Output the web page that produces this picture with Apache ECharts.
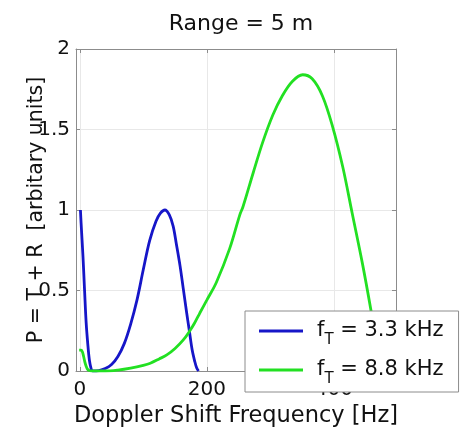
<!DOCTYPE html>
<html>
<head>
<meta charset="utf-8">
<script src="https://cdn.jsdelivr.net/npm/echarts@6/dist/echarts.min.js"></script>
<style>
  html, body { margin: 0; padding: 0; background: #fff; }
  #chart { width: 460px; height: 429px; }
</style>
</head>
<body>
<div id="chart"></div>
<script>
// Doppler spectrum P = T + R at a range of 5 m, for two transmit frequencies.
const freq33 = [1, 2, 5, 7.5, 10, 12.5, 15, 17.5, 20, 30, 40, 50, 60, 70, 80, 90, 100, 110, 120, 127, 134, 141, 147, 152, 158, 163, 168, 172.5, 177, 181, 184, 187];
const power33 = [1.0, 0.92, 0.71, 0.5, 0.3, 0.17, 0.07, 0.02, 0.0, 0.003, 0.015, 0.04, 0.09, 0.17, 0.29, 0.44, 0.63, 0.81, 0.93, 0.98, 1.0, 0.97, 0.9, 0.79, 0.65, 0.51, 0.37, 0.25, 0.13, 0.06, 0.02, 0.0];

const freq88 = [-1, 2, 4, 6, 8, 10, 12, 15, 20, 40, 60, 80, 100, 111, 125, 137, 150, 163, 172.5, 181, 189, 200, 215, 236, 252, 257, 273, 288, 304, 319, 335, 351, 366, 382, 398, 414, 429, 445, 458, 466, 472, 476];
const power88 = [0.13, 0.13, 0.12, 0.09, 0.055, 0.03, 0.012, 0.003, 0.0, 0.0, 0.006, 0.018, 0.035, 0.048, 0.075, 0.1, 0.14, 0.193, 0.245, 0.3, 0.36, 0.44, 0.55, 0.76, 0.97, 1.02, 1.23, 1.42, 1.59, 1.71, 1.8, 1.84, 1.815, 1.71, 1.52, 1.27, 0.98, 0.67, 0.39, 0.2, 0.06, 0.0];

const transmitFreqs = ['3.3', '8.8'];   // kHz
const xTicks = [0, 200, 400];
const yTicks = [0, 0.5, 1, 1.5, 2];

const FONT = 'DejaVu Sans';
const AXIS_GRAY = '#8c8c8c';
const GRID_GRAY = '#e8e8e8';
const colors = ['#1616c8', '#22e022'];

const zip = (xs, ys) => xs.map((x, i) => [x, ys[i]]);

const boxAxis = {
  axisLine: { show: true, onZero: false, lineStyle: { color: AXIS_GRAY, width: 1 } },
  axisTick: { show: true, inside: true, length: 4, lineStyle: { color: AXIS_GRAY } },
  nameMoveOverlap: false
};

const chart = echarts.init(document.getElementById('chart'), null, { renderer: 'canvas' });
chart.setOption({
  animation: false,
  backgroundColor: '#fff',
  title: {
    text: 'Range = 5 m',
    left: 236, top: 8, textAlign: 'center',
    textStyle: { fontFamily: FONT, fontSize: 22, fontWeight: 'normal', color: '#111' }
  },
  grid: { left: 76, top: 49, width: 320, height: 322, outerBoundsMode: 'none', containLabel: false },
  xAxis: [
    Object.assign({}, boxAxis, {
      type: 'value', position: 'bottom', min: -6, max: 498,
      axisTick: Object.assign({}, boxAxis.axisTick, { customValues: xTicks }),
      axisLabel: { customValues: xTicks, fontFamily: FONT, fontSize: 20, color: '#111', margin: 9 },
      splitLine: { show: true, lineStyle: { color: GRID_GRAY, width: 1 } },
      name: 'Doppler Shift Frequency [Hz]', nameLocation: 'middle', nameGap: 34,
      nameTextStyle: { fontFamily: FONT, fontSize: 22.5, color: '#111' }
    }),
    Object.assign({}, boxAxis, {
      type: 'value', position: 'top', min: -6, max: 498,
      axisTick: Object.assign({}, boxAxis.axisTick, { customValues: xTicks }),
      axisLabel: { show: false }, splitLine: { show: false }
    })
  ],
  yAxis: [
    Object.assign({}, boxAxis, {
      type: 'value', position: 'left', min: yTicks[0], max: yTicks[yTicks.length - 1], interval: 0.5,
      axisLabel: { fontFamily: FONT, fontSize: 20, color: '#111', margin: 6 },
      splitLine: { show: true, lineStyle: { color: GRID_GRAY, width: 1 } },
      name: 'P = T + R  [arbitary units]', nameLocation: 'middle', nameGap: 29, nameRotate: 90,
      nameTextStyle: { fontFamily: FONT, fontSize: 20.5, color: '#111' }
    }),
    Object.assign({}, boxAxis, {
      type: 'value', position: 'right', min: yTicks[0], max: yTicks[yTicks.length - 1], interval: 0.5,
      axisLabel: { show: false }, splitLine: { show: false }
    })
  ],
  legend: {
    orient: 'vertical', left: 245, top: 311,
    padding: [9, 15, 5, 14], itemGap: 11,
    icon: 'rect', itemWidth: 44, itemHeight: 3,
    backgroundColor: '#fff', borderColor: '#8c8c8c', borderWidth: 1,
    z: 10,
    formatter: name => '{f|f}{t|T}{f| = ' + name + ' kHz}',
    textStyle: {
      fontFamily: FONT, fontSize: 21, color: '#111', padding: [0, 0, 0, 9],
      rich: {
        f: { fontFamily: FONT, fontSize: 21, color: '#111', verticalAlign: 'top', lineHeight: 22 },
        t: { fontFamily: FONT, fontSize: 15, color: '#111', verticalAlign: 'top', lineHeight: 15, padding: [13, 0, 0, 0] }
      }
    }
  },
  series: transmitFreqs.map((tf, i) => ({
    name: tf,
    type: 'line',
    xAxisIndex: 0, yAxisIndex: 0,
    data: zip(i === 0 ? freq33 : freq88, i === 0 ? power33 : power88),
    showSymbol: false, symbol: 'none',
    smooth: 0.35,
    color: colors[i],
    lineStyle: { color: colors[i], width: 2.8 },
    z: 3
  }))
});
</script>
</body>
</html>
